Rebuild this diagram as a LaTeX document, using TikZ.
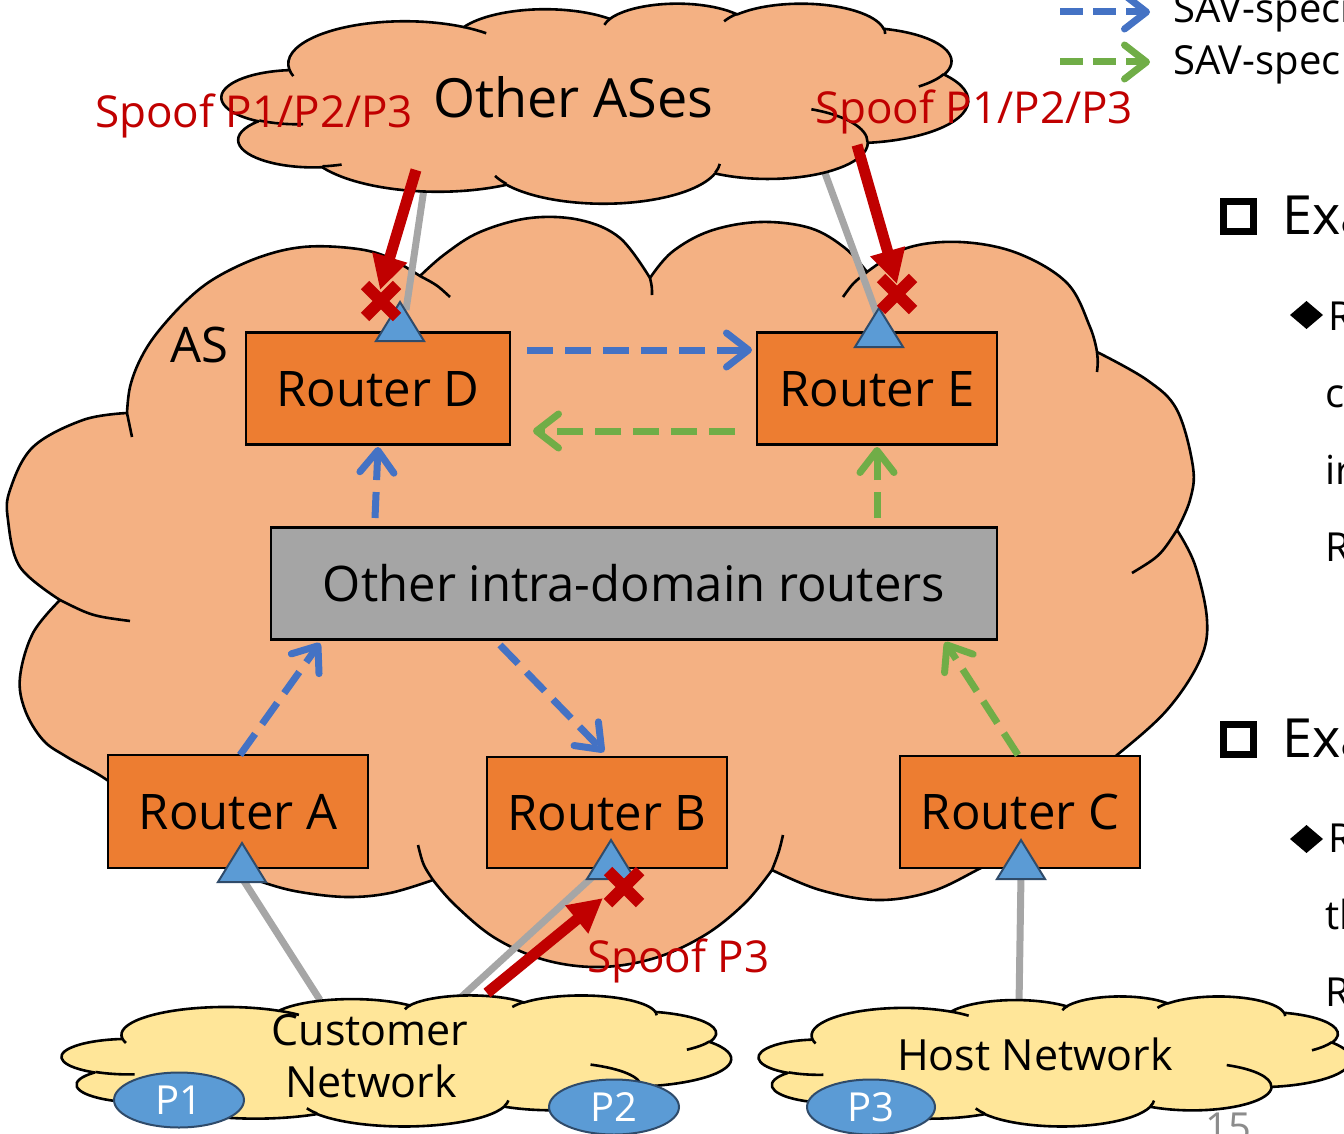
\documentclass[tikz,border=0pt]{standalone}
\usepackage{fontspec}
\setmainfont{Open Sans}
\usetikzlibrary{arrows.meta,shapes.geometric}

\definecolor{asfill}{HTML}{F4B183}
\definecolor{netfill}{HTML}{FFE699}
\definecolor{routerfill}{HTML}{ED7D31}
\definecolor{greybox}{HTML}{A5A5A5}
\definecolor{portfill}{HTML}{5B9BD5}
\definecolor{portline}{HTML}{2F4B6A}
\definecolor{linkgrey}{HTML}{A6A6A6}
\definecolor{spoofred}{HTML}{C00000}
\definecolor{savblue}{HTML}{4472C4}
\definecolor{savgreen}{HTML}{70AD47}
\definecolor{pagegrey}{HTML}{8C8C8C}

% One arc of the preset cloud outline, given on a 43200 x 43200 grid:
% name, x radius, y radius, start angle, sweep (angles measured visually, y down).
% Stores "arc[...]" with parametric angles and unit-box radii in \cld<name>.
\newcommand\cloudarcset[5]{%
  \pgfmathsetmacro\cldtS{atan2((#2)/10000*sin(#4),(#3)/10000*cos(#4))}%
  \pgfmathsetmacro\cldtE{atan2((#2)/10000*sin((#4)+(#5)),(#3)/10000*cos((#4)+(#5)))}%
  \pgfmathsetmacro\cldtW{\cldtE-\cldtS-(#5)}%
  \pgfmathsetmacro\cldtD{(#5)+\cldtW-360*round(\cldtW/360)}%
  \pgfmathsetmacro\cldtX{(#2)/10000/4.32}%
  \pgfmathsetmacro\cldtY{(#3)/10000/4.32}%
  \expandafter\xdef\csname cld#1\endcsname{arc[start angle=\cldtS,delta angle=\cldtD,x radius=\cldtX,y radius=\cldtY]}%
}
% outline
\cloudarcset{A}{6753}{9190}{-190.487483}{123.780533}
\cloudarcset{B}{5333}{7267}{-144.102383}{89.945233}
\cloudarcset{C}{4365}{5945}{-145.807917}{99.723017}
\cloudarcset{D}{4857}{6595}{-130.986067}{117.241733}
\cloudarcset{E}{5333}{7273}{-78.708883}{109.026917}
\cloudarcset{F}{6775}{9220}{-46.26725}{130.269}
\cloudarcset{G}{5785}{7867}{0.625017}{114.033333}
\cloudarcset{H}{6752}{9215}{22.4516}{115.17255}
\cloudarcset{I}{7720}{10543}{66.242633}{75.711017}
\cloudarcset{J}{4360}{5918}{-274.942083}{146.735567}
\cloudarcset{K}{4345}{5945}{-246.8285}{152.51885}
% inner folds
\cloudarcset{a}{4345}{5945}{86.742}{26.4295}
\cloudarcset{b}{4360}{5918}{73.61047}{11.44747}
\cloudarcset{c}{6752}{9215}{137.62415}{14.0811}
\cloudarcset{d}{6752}{9215}{6.45327}{15.99835}
\cloudarcset{e}{5785}{7867}{-70.29235}{70.91737}
\cloudarcset{f}{5333}{7273}{30.31803}{27.7515}
\cloudarcset{g}{4857}{6595}{-13.74433}{14.8589}
\cloudarcset{h}{4857}{6595}{-149.18145}{18.19537}
\cloudarcset{i}{4365}{5945}{-163.49427}{17.68635}
\cloudarcset{j}{6753}{9190}{-66.70695}{12.31935}
\cloudarcset{k}{6753}{9190}{157.65435}{11.85817}

% preset cloud in the box with top-left (#1,#2), width #3, height #4, fill #5
\newcommand\stdcloud[5]{%
  \begin{scope}[shift={(#1,#2)},x={(#3pt,0pt)},y={(0pt,-#4pt)}]
    \filldraw[cloudedge,fill=#5] (0.0902778,0.3326389)
      \cldA \cldB \cldC \cldD \cldE \cldF \cldG \cldH \cldI \cldJ \cldK -- cycle;
    \draw[cloudedge] (0.108634,0.605949) \clda
      (0.160370,0.807847) \cldb
      (0.381435,0.904861) \cldc
      (0.667292,0.804421) \cldd
      (0.790023,0.531343) \clde
      (0.967546,0.355417) \cldf
      (0.887130,0.125602) \cldg
      (0.673102,0.091481) \cldh
      (0.512523,0.109259) \cldi
      (0.324074,0.120185) \cldj
      (0.095532,0.365486) \cldk;
  \end{scope}}

\tikzset{
  cloudedge/.style={draw=black,line width=2.6pt,line join=round},
  routerbox/.style={draw=black,line width=2.2pt,fill=routerfill,inner sep=0pt,
    text height=35pt,text depth=0pt,font=\fontsize{49}{58}\selectfont},
  attachline/.style={draw=linkgrey,line width=7pt},
  portshape/.style={draw=portline,line width=2pt,fill=portfill,line join=miter},
  savarrow/.style={line width=7pt,dash pattern=on 26pt off 12pt,
    -{Straight Barb[length=22pt,width=34pt,round]}},
  spoofarrow/.style={draw=spoofred,line width=11pt,-{Triangle[length=34pt,width=34pt]}},
  dropmark/.style={draw=spoofred,line width=12pt},
  lbl/.style={inner sep=0pt,anchor=base west},
  spooftext/.style={lbl,text=spoofred,font=\fontsize{44}{52}\selectfont},
  pfxnode/.style={ellipse,draw=portline,line width=2pt,fill=portfill,text=white,
    minimum width=130pt,minimum height=55pt,inner sep=0pt,
    font=\fontsize{40}{48}\selectfont,text height=28pt,text depth=0pt}
}

\begin{document}
\begin{tikzpicture}[x=1pt,y=-1pt]
\useasboundingbox (0,0) rectangle (1344,1134);
\clip (0,0) rectangle (1344,1134);

% ---- the AS cloud ----
\filldraw[cloudedge,fill=asfill]
  plot[smooth,tension=0.6] coordinates {(127,413) (130,387) (140,360) (157,333) (187,300) (217,277) (260,257) (303,247) (350,248) (385,256) (420,276)}
  -- plot[smooth,tension=0.6] coordinates {(420,276) (445,254) (480,232) (530,218) (580,220) (620,238) (650,278)}
  -- plot[smooth,tension=0.6] coordinates {(650,278) (672,252) (710,231) (760,222) (810,228) (845,248) (867,272)}
  -- plot[smooth,tension=0.6] coordinates {(867,272) (907,248) (960,242) (1017,253) (1067,283) (1090,327) (1097,352)}
  -- plot[smooth,tension=0.6] coordinates {(1097,352) (1147,380) (1177,410) (1193,467) (1190,500) (1177,530)}
  -- plot[smooth,tension=0.6] coordinates {(1177,530) (1195,565) (1207,620) (1200,660) (1167,710) (1117,755) (1085,778) (1060,800)}
  -- plot[smooth,tension=0.6] coordinates {(1060,800) (1020,845) (977,870) (930,892) (877,900) (820,890) (772,870)}
  -- plot[smooth,tension=0.6] coordinates {(772,870) (745,903) (705,935) (655,958) (600,967) (545,960) (495,938) (455,905) (433,880)}
  -- plot[smooth,tension=0.6] coordinates {(433,880) (390,893) (347,897) (300,892) (265,883) (225,868) (195,850)}
  -- plot[smooth,tension=0.6] coordinates {(195,850) (150,815) (107,780) (67,757) (43,740) (25,710) (20,677) (33,633) (60,600)}
  -- plot[smooth,tension=0.6] coordinates {(60,600) (20,567) (8,520) (10,490) (33,447) (83,420) (127,413)}
  -- cycle;
\draw[cloudedge]
  (127,413) .. controls (129,425) .. (132,437)
  (60,600) .. controls (92,616) .. (130,621)
  (433,880) .. controls (423,865) .. (418,845)
  (772,870) .. controls (779,852) .. (783,835)
  (1177,530) .. controls (1160,556) .. (1132,573)
  (1097,352) .. controls (1098,362) .. (1097,372)
  (867,272) .. controls (853,283) .. (843,297)
  (650,278) .. controls (652,287) .. (652,295)
  (420,276) .. controls (437,285) .. (450,297);

% ---- ports (apex points) ----
\coordinate (portD) at (400,302);
\coordinate (portE) at (879,308);
\coordinate (portA) at (242,843);
\coordinate (portB) at (611,840);
\coordinate (portC) at (1021,840);

% ---- grey attachment links ----
\coordinate (upD) at (425,182);
\coordinate (upE) at (822,165);
\coordinate (custA) at (320,1000);
\coordinate (custB) at (458,1000);
\coordinate (hostC) at (1019,1005);
\draw[attachline] ([shift={(6,8)}]portD) -- (upD);
\draw[attachline] ([shift={(0,12)}]portE) -- (upE);
\draw[attachline] ([shift={(0,35)}]portA) -- (custA);
\draw[attachline] ([shift={(-11,30)}]portB) -- (custB);
\draw[attachline] ([shift={(0,35)}]portC) -- (hostC);

% ---- neighbouring clouds ----
\stdcloud{222}{3}{746}{200}{asfill}
\stdcloud{62}{995}{669}{131}{netfill}
\stdcloud{759}{996}{592}{130}{netfill}

% ---- routers ----
\node[routerbox,minimum width=264pt,minimum height=112pt] (rD) at (378,388.5) {Router D};
\node[routerbox,minimum width=240pt,minimum height=112pt] (rE) at (877,388.5) {Router E};
\node[routerbox,fill=greybox,minimum width=726pt,minimum height=112pt] (oth) at (634,583.5) {Other intra-domain routers};
\node[routerbox,minimum width=260pt,minimum height=113pt] (rA) at (238,811.5) {Router A};
\node[routerbox,minimum width=240pt,minimum height=111pt] (rB) at (607,812.5) {Router B};
\node[routerbox,minimum width=240pt,minimum height=112pt] (rC) at (1020,812) {Router C};

% ---- port triangles ----
\foreach \p in {portD,portE,portA,portB,portC}
  \filldraw[portshape] (\p) -- ++(24,39) -- ++(-48,0) -- cycle;

% ---- SAV rule propagation ----
\coordinate (bDEs) at (527,350);  \coordinate (bDEe) at (752,350);
\coordinate (gEDs) at (735,431);  \coordinate (gEDe) at (533,431);
\coordinate (bODs) at (375,518);  \coordinate (bODe) at (378,447);
\coordinate (gOEs) at (877,518);  \coordinate (gOEe) at (877,447);
\coordinate (bAOs) at (240,755);  \coordinate (bAOe) at (320,643);
\coordinate (bOBs) at (500,645);  \coordinate (bOBe) at (604,752);
\coordinate (gCOs) at (1018,755); \coordinate (gCOe) at (945,642);
\draw[savarrow,savblue] (bDEs) -- (bDEe);
\draw[savarrow,savgreen] (gEDs) -- (gEDe);
\draw[savarrow,savblue] (bODs) -- (bODe);
\draw[savarrow,savgreen] (gOEs) -- (gOEe);
\draw[savarrow,savblue] (bAOs) -- (bAOe);
\draw[savarrow,savblue] (bOBs) -- (bOBe);
\draw[savarrow,savgreen] (gCOs) -- (gCOe);

% ---- prefixes ----
\node[pfxnode] (p1) at (179,1100) {P1};
\node[pfxnode] (p2) at (614,1107) {P2};
\node[pfxnode,minimum width=128pt] (p3) at (871,1107) {P3};

% ---- spoofed traffic and where it is dropped ----
\coordinate (spDs) at (416,170); \coordinate (spDe) at (380,290);
\coordinate (spEs) at (857,145); \coordinate (spEe) at (897,284);
\coordinate (spBs) at (487,993); \coordinate (spBe) at (603,898);
\draw[spoofarrow] (spDs) -- (spDe);
\draw[spoofarrow] (spEs) -- (spEe);
\draw[spoofarrow] (spBs) -- (spBe);
\coordinate (dropD) at (381,301);
\coordinate (dropE) at (897,294);
\coordinate (dropB) at (624,887);
\foreach \m in {dropD,dropE,dropB}
  \draw[dropmark] ([shift={(-16,-16)}]\m) -- ([shift={(16,16)}]\m)
                  ([shift={(-16,16)}]\m) -- ([shift={(16,-16)}]\m);

% ---- labels ----
\node[lbl,font=\fontsize{54}{64}\selectfont] (otherAS) at (433,118) {Other ASes};
\node[spooftext] (spoofL) at (95,128) {Spoof P1/P2/P3};
\node[spooftext] (spoofR) at (815,124) {Spoof P1/P2/P3};
\node[spooftext] (spoofB) at (587,972) {Spoof P3};
\node[lbl,font=\fontsize{49}{58}\selectfont] (asName) at (170,362) {AS};
\node[lbl,anchor=base,font=\fontsize{43}{52}\selectfont] (cust1) at (370,1045) {Customer};
\node[lbl,anchor=base,font=\fontsize{43}{52}\selectfont] (cust2) at (371,1097) {Network};
\node[lbl,anchor=base,font=\fontsize{43}{52}\selectfont] (hostN) at (1035,1070) {Host Network};

% ---- legend ----
\coordinate (legBs) at (1060,12); \coordinate (legBe) at (1150,12);
\coordinate (legGs) at (1060,62); \coordinate (legGe) at (1150,62);
\draw[savarrow,savblue,dash pattern=on 23pt off 10pt] (legBs) -- (legBe);
\draw[savarrow,savgreen,dash pattern=on 23pt off 10pt] (legGs) -- (legGe);
\node[lbl,font=\fontsize{40}{48}\selectfont] (legT1) at (1173,23) {SAV-speci};
\node[lbl,font=\fontsize{40}{48}\selectfont] (legT2) at (1173,75) {SAV-spec};

% ---- slide text on the right ----
\node[draw,line width=7pt,minimum size=30pt,inner sep=0pt] (sq1) at (1238.5,216.5) {};
\node[draw,line width=7pt,minimum size=30pt,inner sep=0pt] (sq2) at (1238.5,739) {};
\node[lbl,font=\fontsize{54}{64}\selectfont] (ex1) at (1282,235) {Exa};
\node[lbl,font=\fontsize{54}{64}\selectfont] (ex2) at (1282,757) {Exa};
\fill (1290,315) -- (1306.5,301) -- (1323,315) -- (1306.5,329) -- cycle;
\fill (1290,839) -- (1306.5,825) -- (1323,839) -- (1306.5,853) -- cycle;
\node[lbl,font=\fontsize{40}{48}\selectfont] (t1) at (1328,330) {R};
\node[lbl,font=\fontsize{40}{48}\selectfont] (t2) at (1325,407) {c};
\node[lbl,font=\fontsize{40}{48}\selectfont] (t3) at (1325,484) {ir};
\node[lbl,font=\fontsize{40}{48}\selectfont] (t4) at (1325,561) {R};
\node[lbl,font=\fontsize{40}{48}\selectfont] (t5) at (1328,852) {R};
\node[lbl,font=\fontsize{40}{48}\selectfont] (t6) at (1325,929) {tl};
\node[lbl,font=\fontsize{40}{48}\selectfont] (t7) at (1325,1006) {R};
\node[lbl,text=pagegrey,font=\fontsize{40}{48}\selectfont] (pg) at (1205,1141) {15};
\end{tikzpicture}
\end{document}
